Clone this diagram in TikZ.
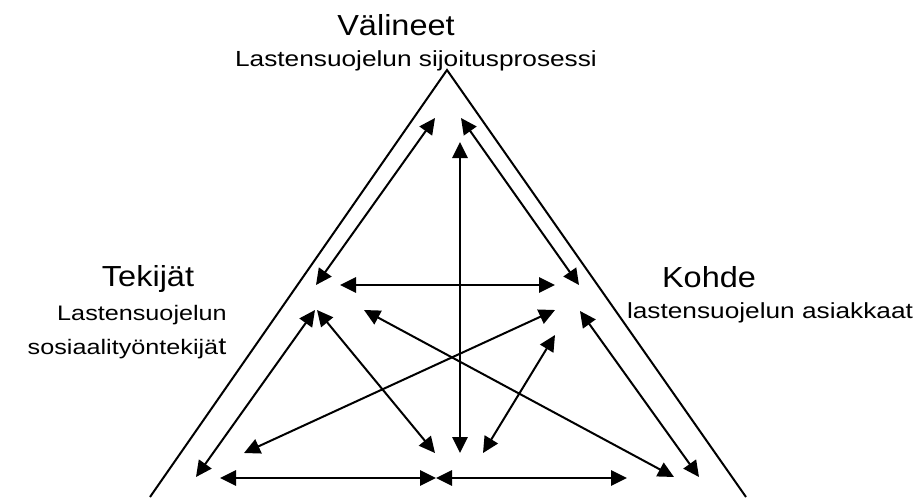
\documentclass[tikz,border=0pt]{standalone}
\usepackage{fontspec}
\setmainfont{Liberation Sans}
\newfontfamily\titlefont[FakeStretch=1.12]{Liberation Sans}
\newfontfamily\subfont[FakeStretch=1.2]{Liberation Sans}
\usetikzlibrary{arrows.meta}
\begin{document}
\begin{tikzpicture}[x=0.75pt,y=-0.75pt,
  conn/.style={line width=1.5pt, {Triangle[length=12pt,width=11.5pt]}-{Triangle[length=12pt,width=11.5pt]}},
  side/.style={line width=1.5pt, line join=miter},
  ttl/.style={anchor=base, inner sep=0pt, font=\titlefont\fontsize{21.75pt}{24pt}\selectfont},
  sub/.style={anchor=base, inner sep=0pt, font=\subfont\fontsize{15.75pt}{18pt}\selectfont},
  subl/.style={anchor=base, inner sep=0pt, font=\subfont\fontsize{16.4pt}{18pt}\selectfont}]
\useasboundingbox (0,0) rectangle (920,497);
\begin{scope}
\clip (0,0) rectangle (920,497);
% triangle
\coordinate (apex) at (447,70);
\coordinate (bl) at (150,497);
\coordinate (br) at (746,497);
\draw[side] (bl) -- (apex) -- (br);
\end{scope}
% texts
\node[ttl] (valineet) at (396,35) {Välineet};
\node[subl] (valsub) at (416,66) {Lastensuojelun sijoitusprosessi};
\node[ttl] (tekijat) at (148,286) {Tekijät};
\node[sub] (tek1) at (142,320) {Lastensuojelun};
\node[sub] (tek2) at (127,354) {sosiaalityöntekijä{\fontsize{18pt}{20pt}\selectfont t}};
\node[ttl] (kohde) at (709,287) {Kohde};
\node[subl] (koh1) at (770,318) {lastensuojelun asiakkaat};
% arrow endpoints
\coordinate (t1) at (435,118);
\coordinate (t2) at (461,118);
\coordinate (t3) at (460,142);
\coordinate (l1) at (316,285);
\coordinate (h1) at (340,285);
\coordinate (h2) at (555,285);
\coordinate (r1) at (579,285);
\coordinate (l2) at (315,310);
\coordinate (l3) at (317,310);
\coordinate (l4) at (364,310);
\coordinate (r2) at (555,310);
\coordinate (r3) at (580,311);
\coordinate (r4) at (555,335);
\coordinate (b1) at (196,477);
\coordinate (b2) at (244,453);
\coordinate (b3) at (220,478);
\coordinate (b4) at (435,453);
\coordinate (b5) at (460,453);
\coordinate (b6) at (483,453);
\coordinate (bm) at (436,478);
\coordinate (b7) at (627,478);
\coordinate (b8) at (674,477);
\coordinate (b9) at (699,477);
% connectors
\draw[conn] (t1) -- (l1);
\draw[conn] (t2) -- (r1);
\draw[conn] (t3) -- (b5);
\draw[conn] (h1) -- (h2);
\draw[conn] (l2) -- (b1);
\draw[conn] (l3) -- (b4);
\draw[conn] (l4) -- (b8);
\draw[conn] (r2) -- (b2);
\draw[conn] (r3) -- (b9);
\draw[conn] (r4) -- (b6);
\draw[conn] (b3) -- (bm);
\draw[conn] (bm) -- (b7);
\end{tikzpicture}
\end{document}
